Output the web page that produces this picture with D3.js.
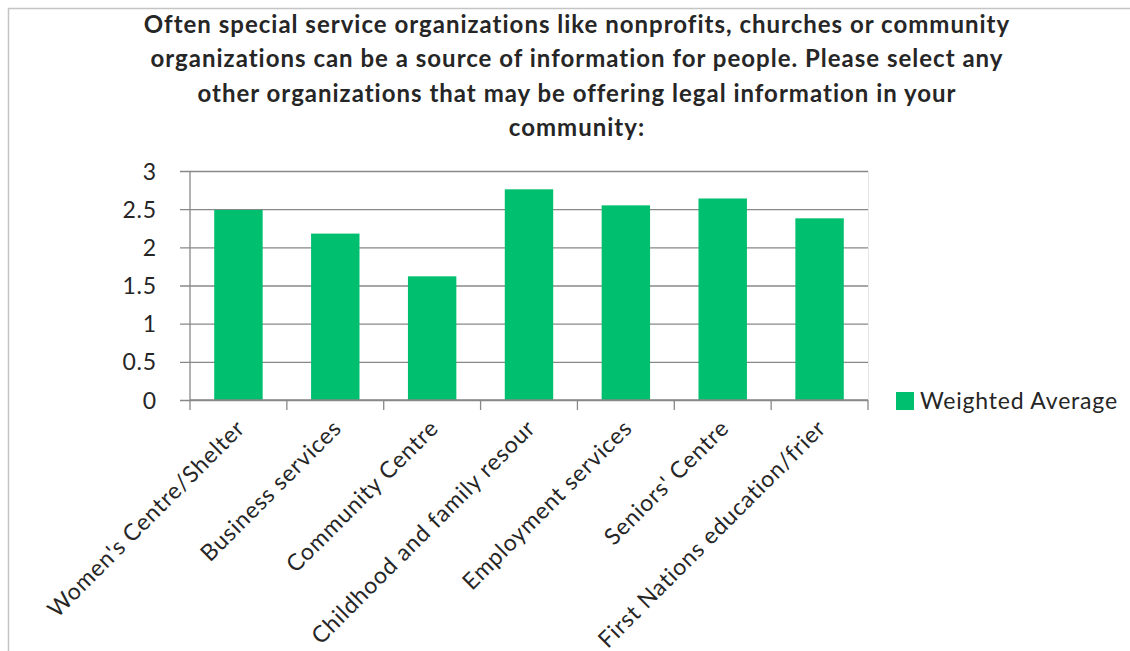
<!DOCTYPE html>
<html>
<head>
<meta charset="utf-8">
<script src="https://cdn.jsdelivr.net/npm/d3@7"></script>
<style>
  html, body { margin: 0; padding: 0; background: #fff; }
  svg { display: block; }
  text { font-family: Lato, "Open Sans", sans-serif; fill: #262626; }
</style>
</head>
<body>
<svg id="chart" width="1130" height="651"></svg>
<script>
// Survey results: weighted average per organization type
const categories = [
  "Women's Centre/Shelter",
  "Business services",
  "Community Centre",
  "Childhood and family resour",
  "Employment services",
  "Seniors' Centre",
  "First Nations education/frier"
];
const weightedAverage = [2.49, 2.18, 1.62, 2.76, 2.55, 2.64, 2.38];
const yTicks = [0, 0.5, 1, 1.5, 2, 2.5, 3];
const titleLines = [
  "Often special service organizations like nonprofits, churches or community",
  "organizations can be a source of information for people. Please select any",
  "other organizations that may be offering legal information in your",
  "community:"
];
const seriesName = "Weighted Average";

const svg = d3.select("#chart");
const plot = { left: 190, right: 868, top: 171, bottom: 400 };
const barColor = "#00bf6f";
const gridColor = "#888888";
const labelSize = 23;
const labelSpacing = 0.8;

// outer frame
svg.append("path")
  .attr("d", "M8.5,651 V8.5 H1130")
  .attr("fill", "none")
  .attr("stroke", "#c4c4c4")
  .attr("stroke-width", 1.5);

// title
svg.append("g")
  .selectAll("text")
  .data(titleLines)
  .join("text")
  .attr("x", 577)
  .attr("y", (d, i) => 33 + i * 34.4)
  .attr("text-anchor", "middle")
  .attr("font-weight", "bold")
  .attr("font-size", 24)
  .attr("letter-spacing", 1)
  .text(d => d);

const x = d3.scaleBand()
  .domain(categories)
  .range([plot.left, plot.right])
  .paddingInner(0.5)
  .paddingOuter(0.25);

const y = d3.scaleLinear()
  .domain([0, 3])
  .range([plot.bottom, plot.top]);

// right edge of plot area
svg.append("line")
  .attr("x1", plot.right + 0.5).attr("x2", plot.right + 0.5)
  .attr("y1", plot.top).attr("y2", plot.bottom)
  .attr("stroke", "#e6e6e6");

// horizontal gridlines with left tick stubs
const yAxis = d3.axisLeft(y)
  .tickValues(yTicks)
  .tickSize(-(plot.right - plot.left + 10))
  .tickFormat(d3.format("~g"))
  .tickPadding(0);

const gy = svg.append("g")
  .attr("transform", `translate(${plot.right},0)`)
  .call(yAxis);
gy.select(".domain").remove();
gy.selectAll(".tick line")
  .attr("x1", 0)
  .attr("x2", -(plot.right - plot.left + 10))
  .attr("stroke", gridColor)
  .attr("stroke-width", 1.3);
gy.selectAll(".tick text")
  .attr("x", -(plot.right - 157))
  .attr("dy", "0.35em")
  .attr("font-size", labelSize)
  .attr("letter-spacing", labelSpacing)
  .attr("text-anchor", "end")
  .style("fill", "#262626")
  .style("font-family", "Lato, 'Open Sans', sans-serif");

// bars
svg.append("g")
  .selectAll("rect")
  .data(weightedAverage)
  .join("rect")
  .attr("x", (d, i) => x(categories[i]))
  .attr("width", x.bandwidth())
  .attr("y", d => y(d))
  .attr("height", d => y(0) - y(d))
  .attr("fill", barColor);

// y axis line
svg.append("line")
  .attr("x1", plot.left).attr("x2", plot.left)
  .attr("y1", plot.top).attr("y2", plot.bottom)
  .attr("stroke", gridColor)
  .attr("stroke-width", 1.3);

// x axis with category boundary ticks
const step = x.step();
const boundaries = d3.range(categories.length + 1).map(i => plot.left + i * step);
const gx = svg.append("g");
gx.append("line")
  .attr("x1", plot.left).attr("x2", plot.right)
  .attr("y1", plot.bottom).attr("y2", plot.bottom)
  .attr("stroke", gridColor)
  .attr("stroke-width", 1.3);
gx.selectAll("line.tk")
  .data(boundaries)
  .join("line")
  .attr("class", "tk")
  .attr("x1", d => d).attr("x2", d => d)
  .attr("y1", plot.bottom).attr("y2", plot.bottom + 10)
  .attr("stroke", gridColor)
  .attr("stroke-width", 1.3);

// rotated category labels
gx.selectAll("text")
  .data(categories)
  .join("text")
  .attr("transform", d => `translate(${x(d) + x.bandwidth() / 2 + 2},${plot.bottom + 24}) rotate(-45)`)
  .attr("text-anchor", "end")
  .attr("dy", "0.35em")
  .attr("font-size", labelSize)
  .attr("letter-spacing", labelSpacing)
  .text(d => d);

// legend
const lg = svg.append("g").attr("transform", "translate(896,392)");
lg.append("rect").attr("width", 18).attr("height", 18).attr("fill", barColor);
lg.append("text")
  .attr("x", 24)
  .attr("y", 9)
  .attr("dy", "0.35em")
  .attr("font-size", labelSize)
  .attr("letter-spacing", labelSpacing)
  .text(seriesName);
</script>
</body>
</html>
